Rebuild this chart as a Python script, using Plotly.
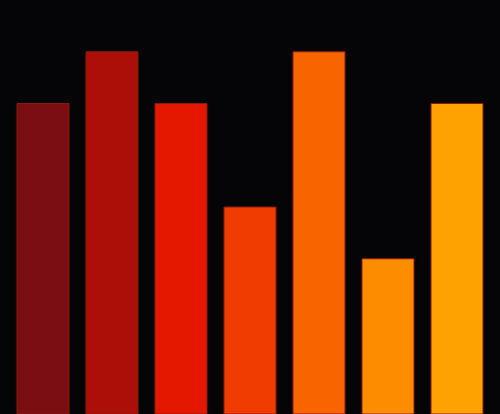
import plotly.graph_objects as go

categories = ["A", "B", "C", "D", "E", "F", "G"]
values = [6, 7, 6, 4, 7, 3, 6]
bar_colors = ["#7b0e12", "#ac0f08", "#e41801", "#f03c00", "#f86400", "#fc8c00", "#fda200"]

fig = go.Figure(
    go.Bar(
        x=categories,
        y=values,
        marker=dict(color=bar_colors, line=dict(color="#8a1a08", width=1)),
    )
)

fig.update_layout(
    width=500,
    height=414,
    margin=dict(l=0, r=0, t=0, b=0),
    paper_bgcolor="#050407",
    plot_bgcolor="#050407",
    bargap=0.246,
    showlegend=False,
    xaxis=dict(visible=False, range=[-0.623, 6.623]),
    yaxis=dict(visible=False, range=[0, 8]),
)

# drop the page margin so the chart sits flush in the window
fig.write_html(
    "out.html",
    config=dict(displayModeBar=False),
    post_script="document.body.style.margin='0';document.body.style.overflow='hidden';",
)
